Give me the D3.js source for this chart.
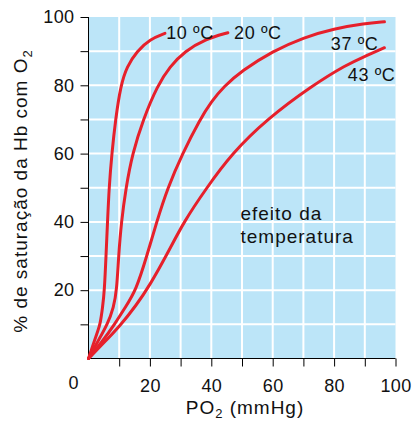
<!DOCTYPE html>
<html>
<head>
<meta charset="utf-8">
<script src="https://cdn.jsdelivr.net/npm/d3@7"></script>
<style>
  body { margin: 0; background: #fff; }
  text { font-family: "Liberation Sans", Arial, sans-serif; fill: #111; }
</style>
</head>
<body>
<div id="chart"></div>
<script>
// curva de dissociação da Hb
const temps = ["10 ºC", "20 ºC", "37 ºC", "43 ºC"];
const po2_10 = [0, 1.5, 3, 3.8, 4.6, 5.2, 5.7, 6.2, 6.7, 7.6, 8.8, 10.5, 12.5, 15.8, 20, 24.9];
const sat_10 = [0, 4, 8, 10, 15, 20, 30, 40, 50, 60, 70, 80, 85.5, 90, 93.5, 95.2];
const po2_20 = [0, 3, 6.2, 8.2, 9.2, 9.8, 10.7, 12.2, 14.3, 17.8, 22.5, 26.5, 31.4, 38, 45.4];
const sat_20 = [0, 5, 10, 15, 20, 30, 40, 50, 60, 70, 80, 85.5, 90, 93.5, 95.4];
const po2_37 = [0, 4.5, 8.5, 12, 15.5, 19, 22.2, 25.8, 30.6, 36.3, 40, 44, 50, 60, 70, 80, 90, 96.4];
const sat_37 = [0, 5, 10, 15, 20, 30, 40, 50, 60, 70, 75.2, 79.6, 84.3, 90, 94, 96.6, 98.1, 98.6];
const po2_43 = [0, 5, 10.3, 15.5, 20, 25.6, 31, 38.5, 46.7, 58, 73, 84, 90, 96.4];
const sat_43 = [0, 4.6, 9.6, 15.5, 21.5, 30.5, 40, 50, 60, 70, 80, 86, 88.5, 91];
const xTicks = [20, 40, 60, 80, 100];
const yTicks = [20, 40, 60, 80, 100];

const width = 413, height = 421;
const xs = d3.scaleLinear().domain([0, 100]).range([88.5, 395.5]);
const ys = d3.scaleLinear().domain([0, 100]).range([358.5, 17]);

const svg = d3.select("#chart").append("svg")
  .attr("width", width).attr("height", height);

// fundo
svg.append("rect")
  .attr("x", xs(0)).attr("y", ys(100))
  .attr("width", xs(100) - xs(0)).attr("height", ys(0) - ys(100))
  .attr("fill", "#bce5f8");

// grade
const grid = d3.range(10, 100, 10);
svg.append("g").selectAll("line").data(grid).enter().append("line")
  .attr("x1", d => xs(d)).attr("x2", d => xs(d))
  .attr("y1", ys(0)).attr("y2", ys(100))
  .attr("stroke", "#fff").attr("stroke-width", 2);
svg.append("g").selectAll("line").data(grid).enter().append("line")
  .attr("x1", xs(0)).attr("x2", xs(100))
  .attr("y1", d => ys(d)).attr("y2", d => ys(d))
  .attr("stroke", "#fff").attr("stroke-width", 2);

// eixos
const xAxis = d3.axisBottom(xs).tickValues(d3.range(10, 101, 10)).tickSize(8)
  .tickFormat(d => xTicks.includes(d) ? d : "");
const yAxis = d3.axisLeft(ys).tickValues(d3.range(10, 101, 10)).tickSize(8)
  .tickFormat(d => yTicks.includes(d) ? d : "");

const gx = svg.append("g").attr("transform", "translate(0," + ys(0) + ")").call(xAxis);
gx.select(".domain").attr("d", "M" + xs(0) + ",0H" + xs(100));
gx.selectAll("text").attr("dy", "1.25em").style("font-size", "18px").style("letter-spacing", "0.4px")
  .style("font-family", "Liberation Sans, Arial, sans-serif").attr("fill", "#111");

const gy = svg.append("g").attr("transform", "translate(" + xs(0) + ",0)").call(yAxis);
gy.select(".domain").attr("d", "M0," + ys(0) + "V" + ys(100));
gy.selectAll("text").attr("x", -14).style("font-size", "18px").style("letter-spacing", "0.4px")
  .style("font-family", "Liberation Sans, Arial, sans-serif").attr("fill", "#111");

svg.append("text").attr("x", xs(0) - 10).attr("y", ys(0) + 30)
  .attr("text-anchor", "end").style("font-size", "18px").text("0");

// curvas
const line = d3.line().x(d => xs(d[0])).y(d => ys(d[1]))
  .curve(d3.curveBasis);
const series = [
  d3.zip(po2_10, sat_10), d3.zip(po2_20, sat_20),
  d3.zip(po2_37, sat_37), d3.zip(po2_43, sat_43)
];
svg.append("g").selectAll("path").data(series).enter().append("path")
  .attr("d", line).attr("fill", "none")
  .attr("stroke", "#e6202b").attr("stroke-width", 3).attr("stroke-linecap", "round");

// rótulos das curvas
const lab = [
  {t: temps[0], x: 25.3, y: 95.2, dx: 0, dy: 6, a: "start"},
  {t: temps[1], x: 45.8, y: 95.4, dx: 5, dy: 6, a: "start"},
  {t: temps[2], x: 96.4, y: 98.6, dx: -6, dy: 28, a: "end"},
  {t: temps[3], x: 96.4, y: 91, dx: 11, dy: 33, a: "end"}
];
svg.append("g").selectAll("text").data(lab).enter().append("text")
  .attr("x", d => xs(d.x) + d.dx).attr("y", d => ys(d.y) + d.dy)
  .attr("text-anchor", d => d.a)
  .style("font-size", "18px").style("letter-spacing", "0.6px")
  .text(d => d.t);

// anotação
const note = svg.append("text").attr("x", xs(49.5)).attr("y", ys(40.5))
  .style("font-size", "19px").style("letter-spacing", "1px");
note.append("tspan").attr("x", xs(49.5)).text("efeito da");
note.append("tspan").attr("x", xs(49.5)).attr("dy", 23).text("temperatura");

// títulos
const xt = svg.append("text").attr("x", 245).attr("y", 414)
  .attr("text-anchor", "middle").style("font-size", "19px").style("letter-spacing", "1px");
xt.append("tspan").text("PO");
xt.append("tspan").attr("dy", 4).style("font-size", "13px").text("2");
xt.append("tspan").attr("dy", -4).text(" (mmHg)");

const yt = svg.append("text").attr("transform", "translate(27,191) rotate(-90)")
  .attr("text-anchor", "middle").style("font-size", "19px").style("letter-spacing", "1px");
yt.append("tspan").text("% de saturação da Hb com O");
yt.append("tspan").attr("dy", 5).style("font-size", "13px").text("2");
</script>
</body>
</html>
